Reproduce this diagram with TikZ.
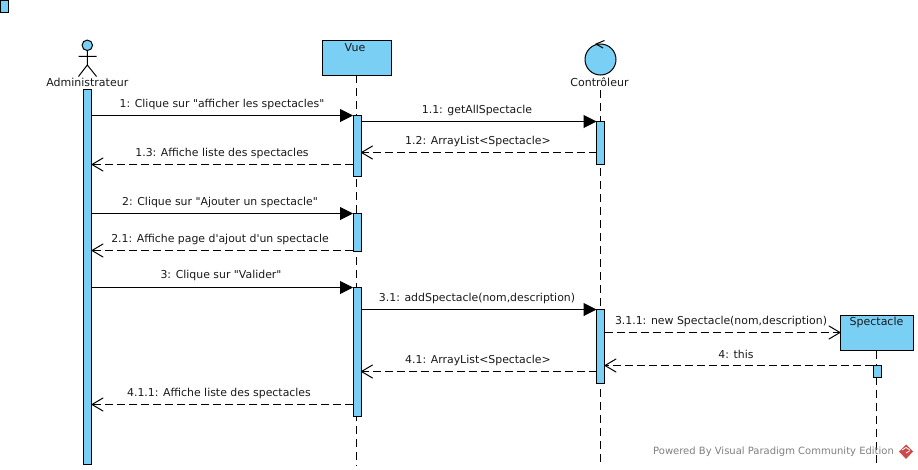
\documentclass[tikz,border=0pt]{standalone}
\usepackage{fontspec}
\setmainfont[Ligatures=TeXOff]{DejaVu Sans}
\usetikzlibrary{arrows.meta}
\definecolor{vpblue}{HTML}{7ACFF5}
\definecolor{ink}{HTML}{1A1A1A}
\definecolor{vpred}{HTML}{CC4A4A}
\tikzset{
  bar/.style={draw=black,fill=vpblue,line width=1pt,minimum width=8pt,inner sep=0pt,outer sep=0pt,anchor=north},
  objbox/.style={draw=black,fill=vpblue,line width=1pt,inner sep=0pt,outer sep=0pt,anchor=north west},
  lifeline/.style={draw=black,line width=1pt,dash pattern=on 8pt off 5pt},
  call/.style={draw=black,line width=1pt,-{Triangle[length=13pt,width=13pt,fill=black]}},
  reply/.style={draw=black,line width=1pt,dash pattern=on 8pt off 4pt,-{Straight Barb[length=11pt,width=13pt,line width=1pt,round=false]}},
  msg/.style={font=\fontsize{10.9}{12}\selectfont,text=ink,inner sep=0pt,yshift=-0.5pt},
  title/.style={font=\fontsize{11}{12}\selectfont,text=ink,inner sep=0pt},
  stick/.style={draw=black,line width=1pt}
}
\begin{document}
\begin{tikzpicture}[x=1pt,y=-1pt]
\useasboundingbox (0,0) rectangle (918,469);
\fill[white] (0,0) rectangle (918,469);
% stray small rectangle
\node[bar,minimum width=8pt,minimum height=12pt] (stray) at (4.5,0.5) {};
% lifelines
\coordinate (lvEnd) at (356.5,466);
\coordinate (lcEnd) at (600.5,466);
\coordinate (lsEnd) at (876.5,466);
\node[objbox,minimum width=68.5pt,minimum height=34.5pt] (vue) at (322.5,40.5) {};
\node[title,anchor=center] (vueT) at (355,47.5) {Vue};
\node[objbox,minimum width=73pt,minimum height=35pt] (spec) at (840.5,315.5) {};
\node[title,anchor=center] (specT) at (876.5,322.5) {Spectacle};
\node[circle,draw=black,fill=vpblue,line width=1pt,minimum size=31pt,inner sep=0pt] (ctrl) at (600.5,59.5) {};
\node[title,anchor=center] (ctrlT) at (599.5,82.5) {Contrôleur};
\draw[stick] (604.5,40.5) -- (596,44) -- (603,48);
\coordinate (ctrlL) at (600.5,90);
\draw[lifeline] (vue.south -| lvEnd) -- (lvEnd);
\draw[lifeline] (ctrlL) -- (lcEnd);
\draw[lifeline] (spec.south -| lsEnd) -- (lsEnd);
% actor
\node[circle,draw=black,fill=vpblue,line width=1pt,minimum size=10.5pt,inner sep=0pt] (head) at (87.3,45.3) {};
\coordinate (hip) at (87.3,65);
\coordinate (footL) at (78.5,76.5);
\coordinate (footR) at (96.5,76.5);
\draw[stick] (head.south) -- (hip) (78.5,56.3) -- (96.5,56.3) (footL) -- (hip) -- (footR);
\node[title,anchor=center] (actT) at (87.3,82.5) {Administrateur};
% activation bars
\node[bar,minimum height=375pt] (aA) at (87.5,89.5) {};
\node[bar,minimum height=61pt] (v1) at (357,115.5) {};
\node[bar,minimum height=38pt] (v2) at (357,213) {};
\node[bar,minimum height=129pt] (v3) at (357,287.5) {};
\node[bar,minimum height=43pt] (c1) at (600.5,121) {};
\node[bar,minimum height=74pt] (c2) at (600.5,309.5) {};
\node[bar,minimum height=12.5pt] (s1) at (877,365) {};
% message levels
\coordinate (y1) at (0,115.5);
\coordinate (y11) at (0,121.5);
\coordinate (y12) at (0,152.5);
\coordinate (y13) at (0,164.5);
\coordinate (y2) at (0,213.5);
\coordinate (y21) at (0,250.5);
\coordinate (y3) at (0,287.5);
\coordinate (y31) at (0,309.5);
\coordinate (y311) at (0,332.5);
\coordinate (y4) at (0,365.5);
\coordinate (y41) at (0,371.5);
\coordinate (y411) at (0,404.5);
% messages
\draw[call] (aA.east |- y1) -- (v1.west |- y1);
\node[msg] (t1) at (222,103.5) {1: Clique sur "afficher les spectacles"};
\draw[call] (v1.east |- y11) -- (c1.west |- y11);
\node[msg] (t11) at (477,109.5) {1.1: getAllSpectacle};
\draw[reply] (c1.west |- y12) -- (v1.east |- y12);
\node[msg] (t12) at (478,140.5) {1.2: ArrayList<Spectacle>};
\draw[reply] (v1.west |- y13) -- (aA.east |- y13);
\node[msg] (t13) at (222,152.5) {1.3: Affiche liste des spectacles};
\draw[call] (aA.east |- y2) -- (v2.west |- y2);
\node[msg] (t2) at (220,201.5) {2: Clique sur "Ajouter un spectacle"};
\draw[reply] (v2.west |- y21) -- (aA.east |- y21);
\node[msg] (t21) at (220,238.5) {2.1: Affiche page d'ajout d'un spectacle};
\draw[call] (aA.east |- y3) -- (v3.west |- y3);
\node[msg] (t3) at (221,274.5) {3: Clique sur "Valider"};
\draw[call] (v3.east |- y31) -- (c2.west |- y31);
\node[msg] (t31) at (477,297.5) {3.1: addSpectacle(nom,description)};
\draw[reply] (c2.east |- y311) -- (spec.west |- y311);
\node[msg] (t311) at (721,320.5) {3.1.1: new Spectacle(nom,description)};
\draw[reply] (s1.west |- y4) -- (c2.east |- y4);
\node[msg] (t4) at (736,353.5) {4: this};
\draw[reply] (c2.west |- y41) -- (v3.east |- y41);
\node[msg] (t41) at (478,359.5) {4.1: ArrayList<Spectacle>};
\draw[reply] (v3.west |- y411) -- (aA.east |- y411);
\node[msg] (t411) at (219,392.5) {4.1.1: Affiche liste des spectacles};
% watermark
\node[inner sep=0pt,anchor=west,text=black!50,font=\fontsize{10}{12}\selectfont] (wm) at (653,452) {Powered By Visual Paradigm Community Edition};
\fill[vpred] (906,444.5) -- (913,451.5) -- (906,459) -- (899,451.5) -- cycle;
\draw[white,line width=0.8pt] (902,450) -- (906,447.5) -- (910,450) (906,453) -- (909.5,451);
\end{tikzpicture}
\end{document}
